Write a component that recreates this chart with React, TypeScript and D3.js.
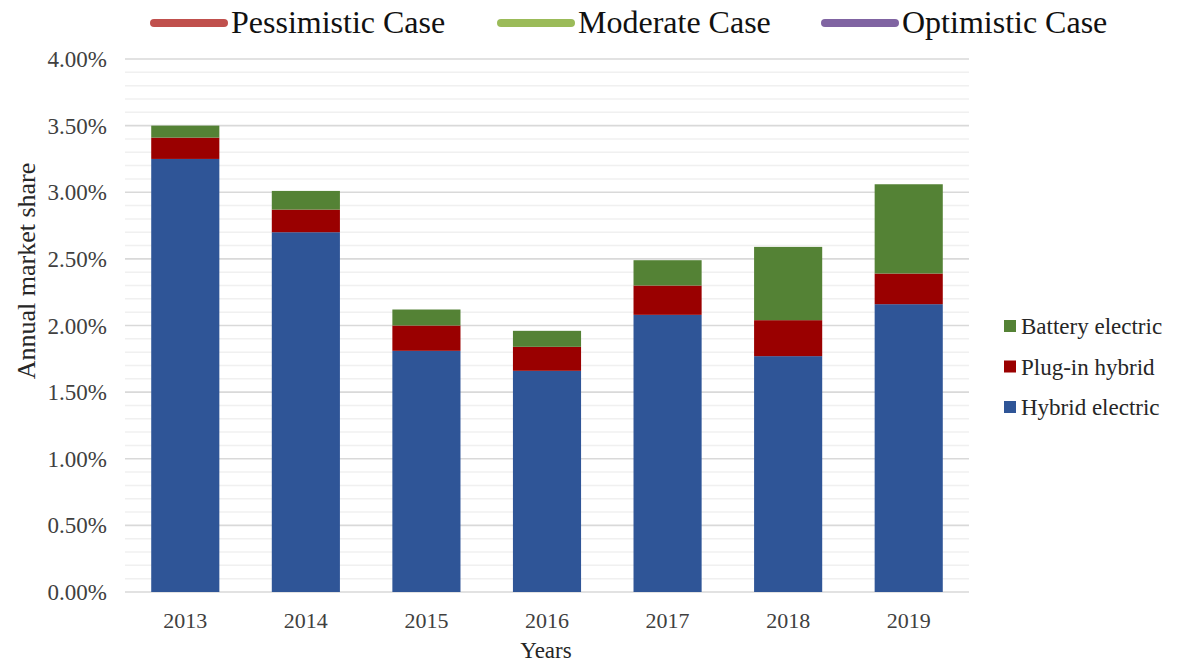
import React, { useEffect, useRef } from "react";
import * as d3 from "d3";

const years = ["2013", "2014", "2015", "2016", "2017", "2018", "2019"];
const hybridElectric = [3.25, 2.7, 1.81, 1.66, 2.08, 1.77, 2.16];
const plugInHybrid = [0.16, 0.17, 0.19, 0.18, 0.22, 0.27, 0.23];
const batteryElectric = [0.09, 0.14, 0.12, 0.12, 0.19, 0.55, 0.67];

const seriesNames = ["Hybrid electric", "Plug-in hybrid", "Battery electric"];
const seriesColors = ["#2F5597", "#9A0000", "#548235"];

const caseNames = ["Pessimistic Case", "Moderate Case", "Optimistic Case"];
const caseColors = ["#C0504D", "#9BBB59", "#8064A2"];

const yTicks = [0, 0.5, 1, 1.5, 2, 2.5, 3, 3.5, 4];

const FONT = "'Liberation Serif', 'Times New Roman', serif";

export default function App() {
  const svgRef = useRef<SVGSVGElement>(null);

  useEffect(() => {
    if (!svgRef.current) return;
    const width = 1193;
    const height = 664;
    const left = 125;
    const right = 969;
    const top = 59;
    const bottom = 592;

    const svg = d3.select(svgRef.current);
    svg.selectAll("*").remove();
    svg.attr("width", width).attr("height", height);

    svg.append("rect").attr("width", width).attr("height", height).attr("fill", "#fff");

    const x = d3
      .scaleBand()
      .domain(years)
      .range([left, right])
      .paddingInner(0.435)
      .paddingOuter(0.2175);

    const y = d3.scaleLinear().domain([0, 4]).range([bottom, top]);

    // minor gridlines every 0.1%
    const minor = d3.range(0, 41).map((i) => i / 10).filter((v) => Math.round(v * 10) % 5 !== 0);
    svg
      .append("g")
      .selectAll("line")
      .data(minor)
      .join("line")
      .attr("x1", left)
      .attr("x2", right)
      .attr("y1", (d) => y(d))
      .attr("y2", (d) => y(d))
      .attr("stroke", "#f0f0f0")
      .attr("stroke-width", 1.5);

    // major gridlines
    svg
      .append("g")
      .selectAll("line")
      .data(yTicks)
      .join("line")
      .attr("x1", left)
      .attr("x2", right)
      .attr("y1", (d) => y(d))
      .attr("y2", (d) => y(d))
      .attr("stroke", "#d9d9d9")
      .attr("stroke-width", 1.6);

    // stacked bars
    const rows = years.map((yr, i) => ({
      year: yr,
      "Hybrid electric": hybridElectric[i],
      "Plug-in hybrid": plugInHybrid[i],
      "Battery electric": batteryElectric[i],
    }));
    const stack = d3.stack<any>().keys(seriesNames)(rows);

    svg
      .append("g")
      .selectAll("g")
      .data(stack)
      .join("g")
      .attr("fill", (_, i) => seriesColors[i])
      .selectAll("rect")
      .data((d) => d)
      .join("rect")
      .attr("x", (d: any) => x(d.data.year) || 0)
      .attr("width", x.bandwidth())
      .attr("y", (d) => y(d[1]))
      .attr("height", (d) => y(d[0]) - y(d[1]));

    // y tick labels
    svg
      .append("g")
      .selectAll("text")
      .data(yTicks)
      .join("text")
      .attr("x", 107)
      .attr("y", (d) => y(d))
      .attr("dy", "0.35em")
      .attr("text-anchor", "end")
      .attr("font-family", FONT)
      .attr("font-size", 23)
      .attr("fill", "#404040")
      .text((d) => d3.format(".2f")(d) + "%");

    // x tick labels
    svg
      .append("g")
      .selectAll("text")
      .data(years)
      .join("text")
      .attr("x", (d) => (x(d) || 0) + x.bandwidth() / 2)
      .attr("y", 628)
      .attr("text-anchor", "middle")
      .attr("font-family", FONT)
      .attr("font-size", 22)
      .attr("fill", "#404040")
      .text((d) => d);

    // axis titles
    svg
      .append("text")
      .attr("transform", "translate(35,271) rotate(-90)")
      .attr("text-anchor", "middle")
      .attr("font-family", FONT)
      .attr("font-size", 26)
      .attr("fill", "#262626")
      .text("Annual market share");

    svg
      .append("text")
      .attr("x", 546)
      .attr("y", 658)
      .attr("text-anchor", "middle")
      .attr("font-family", FONT)
      .attr("font-size", 23)
      .attr("fill", "#262626")
      .text("Years");

    // top legend (scenario lines)
    const caseX = [150, 497, 821];
    const topLegend = svg
      .append("g")
      .selectAll("g")
      .data(caseNames)
      .join("g")
      .attr("transform", (_, i) => `translate(${caseX[i]},0)`);
    topLegend
      .append("line")
      .attr("x1", 4)
      .attr("x2", 74)
      .attr("y1", 23)
      .attr("y2", 23)
      .attr("stroke", (_, i) => caseColors[i])
      .attr("stroke-width", 8)
      .attr("stroke-linecap", "round");
    topLegend
      .append("text")
      .attr("x", 81)
      .attr("y", 33)
      .attr("font-family", FONT)
      .attr("font-size", 32)
      .attr("fill", "#111")
      .text((d) => d);

    // right legend (series)
    const legendOrder = [2, 1, 0];
    const rightLegend = svg
      .append("g")
      .selectAll("g")
      .data(legendOrder)
      .join("g")
      .attr("transform", (_, i) => `translate(1004,${326 + i * 40.5})`);
    rightLegend
      .append("rect")
      .attr("x", 0)
      .attr("y", -6)
      .attr("width", 12)
      .attr("height", 12)
      .attr("fill", (d) => seriesColors[d]);
    rightLegend
      .append("text")
      .attr("x", 17)
      .attr("y", 0)
      .attr("dy", "0.35em")
      .attr("font-family", FONT)
      .attr("font-size", 23)
      .attr("fill", "#262626")
      .text((d) => seriesNames[d]);
  }, []);

  return (
    <div style={{ position: "absolute", left: 0, top: 0 }}>
      <svg ref={svgRef}></svg>
    </div>
  );
}
